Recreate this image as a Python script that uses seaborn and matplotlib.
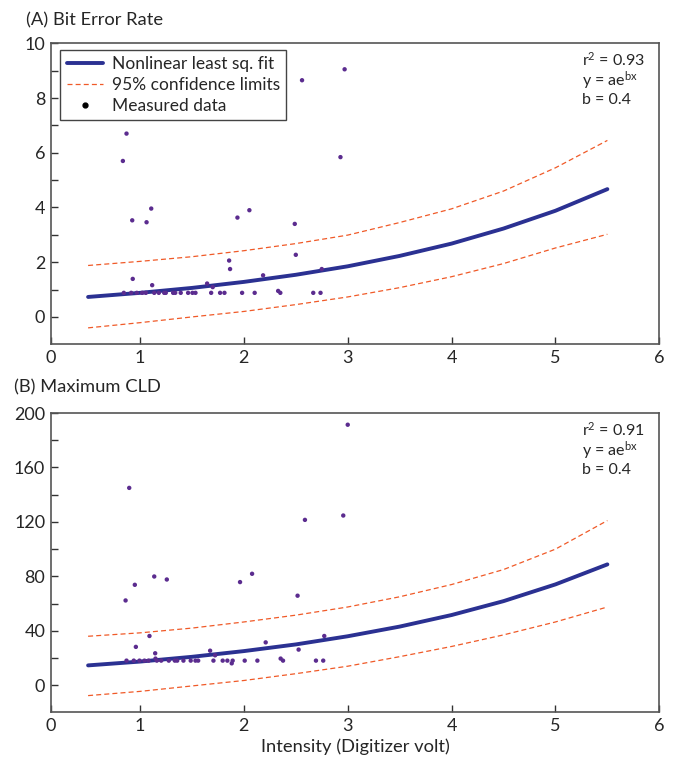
import numpy as np
import pandas as pd
import matplotlib
matplotlib.use("Agg")
import matplotlib.pyplot as plt
import seaborn as sns
from matplotlib.lines import Line2D

sns.set_theme(style="ticks")
plt.rcParams["font.family"] = ["Lato", "DejaVu Sans"]
plt.rcParams["mathtext.default"] = "regular"

# Fitted exponential curve and its 95% confidence band, sampled along x
curve_x = [0.5, 1.0, 1.5, 2.0, 2.5, 3.0, 3.5, 4.0, 4.5, 5.0, 5.5]

ber_fit = [0.73, 0.88, 1.06, 1.28, 1.54, 1.85, 2.23, 2.68, 3.23, 3.88, 4.67]
ber_upper = [1.88, 2.03, 2.20, 2.42, 2.68, 2.99, 3.45, 3.95, 4.60, 5.45, 6.45]
ber_lower = [-0.40, -0.21, 0.00, 0.20, 0.45, 0.73, 1.07, 1.47, 1.95, 2.52, 3.02]

cld_fit = [14.6, 17.4, 20.9, 25.1, 30.0, 36.0, 43.1, 51.6, 61.8, 74.1, 88.8]
cld_upper = [36.0, 38.5, 42.0, 46.5, 51.5, 57.5, 65.0, 74.0, 85.0, 100.0, 121.0]
cld_lower = [-7.6, -4.5, -0.5, 3.5, 8.5, 14.0, 21.0, 28.5, 37.0, 46.5, 57.5]

# Measured data
ber_x = [0.87, 0.835, 1.108, 0.925, 1.063, 1.938, 2.053, 2.49, 2.56, 2.97, 2.93,
         0.93, 1.117, 1.858, 1.867, 2.50, 1.646, 1.70, 2.185, 2.33, 2.75,
         0.844, 0.915, 0.969, 1.021, 1.056, 1.137, 1.181, 1.233, 1.248, 1.319,
         1.339, 1.392, 1.463, 1.505, 1.534, 1.685, 1.771, 1.813, 1.983, 2.104,
         2.351, 2.668, 2.738]
ber_y = [6.70, 5.70, 3.96, 3.53, 3.46, 3.63, 3.90, 3.40, 8.65, 9.05, 5.84,
         1.39, 1.16, 2.06, 1.75, 2.27, 1.22, 1.09, 1.52, 0.95, 1.75,
         0.88, 0.88, 0.88, 0.88, 0.88, 0.88, 0.88, 0.88, 0.88, 0.88,
         0.88, 0.88, 0.88, 0.88, 0.88, 0.88, 0.88, 0.88, 0.88, 0.88,
         0.88, 0.88, 0.88]

cld_x = [0.896, 0.861, 0.95, 1.137, 1.258, 1.963, 2.079, 2.588, 2.517, 3.0, 2.957,
         1.091, 0.96, 1.146, 1.675, 1.723, 2.21, 2.527, 2.354, 1.149, 2.774,
         0.870, 0.940, 0.995, 1.043, 1.082, 1.162, 1.204, 1.277, 1.335, 1.358,
         1.418, 1.488, 1.534, 1.560, 1.707, 1.796, 1.841, 1.892, 2.008, 2.130,
         2.377, 2.694, 2.764, 1.883]
cld_y = [145.0, 62.3, 73.8, 79.9, 77.7, 75.8, 81.9, 121.5, 65.8, 191.4, 124.7,
         36.2, 28.2, 23.5, 25.4, 22.0, 31.5, 26.2, 19.6, 19.6, 36.2,
         18.1, 18.1, 18.1, 18.1, 18.1, 18.1, 18.1, 18.1, 18.1, 18.1,
         18.1, 18.1, 18.1, 18.1, 18.1, 18.1, 18.1, 18.1, 18.1, 18.1,
         18.1, 18.1, 18.1, 16.1]

x_tick_labels = ["0", "1", "2", "3", "4", "5", "6"]
ber_stats = ["0.93", "0.4"]
cld_stats = ["0.91", "0.4"]

FIT_COLOR = "#2B3192"
CI_COLOR = "#F05A28"
DOT_COLOR = "#5B2C8F"
SPINE_COLOR = "#555555"
FS = 12.5

fig = plt.figure(figsize=(6.76, 7.57), dpi=100)
ax_a = fig.add_axes([0.075, 0.5452, 0.9003, 0.3976])
ax_b = fig.add_axes([0.075, 0.0588, 0.9003, 0.3956])


def draw_panel(ax, fit, upper, lower, px, py, stats, ylim, yticks, ylabels):
    curves = pd.DataFrame({"x": curve_x, "fit": fit, "upper": upper, "lower": lower})
    pts = pd.DataFrame({"x": px, "y": py})
    for col in ("upper", "lower"):
        sns.lineplot(data=curves, x="x", y=col, ax=ax, color=CI_COLOR, lw=0.9,
                     linestyle=(0, (4, 2.5)), legend=False)
    sns.lineplot(data=curves, x="x", y="fit", ax=ax, color=FIT_COLOR, lw=2.8,
                 legend=False)
    sns.scatterplot(data=pts, x="x", y="y", ax=ax, color=DOT_COLOR, s=10,
                    edgecolor="none", legend=False, zorder=3)

    x_left = 0.14
    ax.set_xlim(x_left, 6)
    ax.set_xticks([x_left, 1, 2, 3, 4, 5, 6], x_tick_labels)
    ax.set_ylim(*ylim)
    ax.set_yticks(yticks, ylabels)
    ax.set_xlabel("")
    ax.set_ylabel("")
    for s in ax.spines.values():
        s.set_visible(True)
        s.set_color(SPINE_COLOR)
        s.set_linewidth(1.2)
    ax.tick_params(direction="in", length=5, width=1, color="#333333",
                   labelsize=13, pad=4, top=False, right=False)

    ax.text(0.873, 0.975,
            "r$^{2}$ = " + stats[0] + "\ny = ae$^{bx}$\nb = " + stats[1],
            transform=ax.transAxes, ha="left", va="top", fontsize=11.5,
            linespacing=1.05)


draw_panel(ax_a, ber_fit, ber_upper, ber_lower, ber_x, ber_y, ber_stats,
           (-1, 10), list(range(0, 11)),
           [str(v) if v % 2 == 0 else "" for v in range(0, 11)])
draw_panel(ax_b, cld_fit, cld_upper, cld_lower, cld_x, cld_y, cld_stats,
           (-20, 200), list(range(0, 201, 20)),
           [str(v) if v % 40 == 0 else "" for v in range(0, 201, 20)])

handles = [
    Line2D([], [], color=FIT_COLOR, lw=2.8),
    Line2D([], [], color=CI_COLOR, lw=0.9, linestyle=(0, (4, 2.5))),
    Line2D([], [], color="black", marker="o", markersize=3.5, linestyle="none"),
]
leg = ax_a.legend(handles, ["Nonlinear least sq. fit", "95% confidence limits",
                            "Measured data"],
                  loc="upper left", bbox_to_anchor=(0.016, 0.978),
                  borderaxespad=0, fontsize=FS, frameon=True, fancybox=False,
                  framealpha=1, edgecolor="#444444", handlelength=2.1,
                  handletextpad=0.5, labelspacing=0.3, borderpad=0.35)
leg.get_frame().set_linewidth(1.0)

fig.text(26 / 676, 1 - 20 / 757, "(A) Bit Error Rate", ha="left", va="center",
         fontsize=13.2)
fig.text(14 / 676, 1 - 387 / 757, "(B) Maximum CLD", ha="left", va="center",
         fontsize=13.2)
ax_b.set_xlabel("Intensity (Digitizer volt)", fontsize=13.2, labelpad=3)

fig.savefig("out.png", dpi=100)
